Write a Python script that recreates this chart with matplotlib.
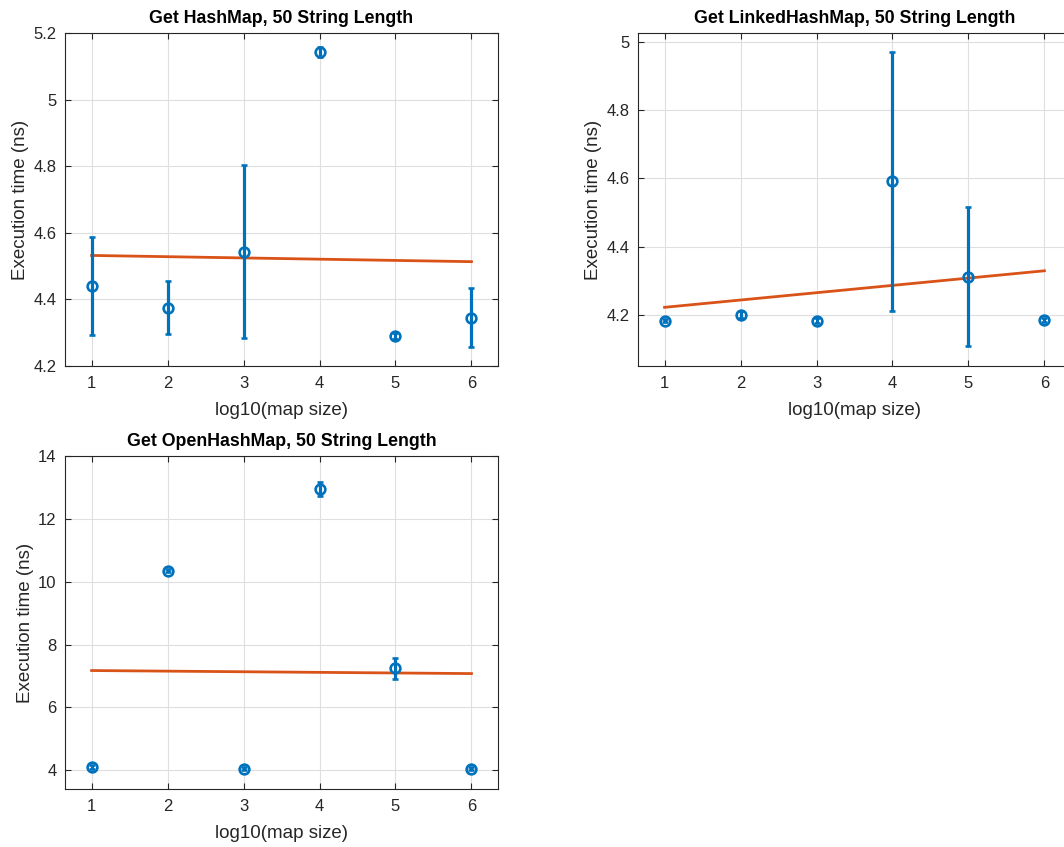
import numpy as np
import matplotlib
matplotlib.use("Agg")
import matplotlib.pyplot as plt

plt.rcParams['font.family'] = ['Liberation Sans', 'DejaVu Sans']

# data
sizes = [1, 2, 3, 4, 5, 6]

hash_mean = [4.44, 4.375, 4.543, 5.142, 4.29, 4.345]
hash_err = [0.148, 0.08, 0.26, 0.015, 0.01, 0.088]

linked_mean = [4.183, 4.200, 4.182, 4.591, 4.312, 4.184]
linked_err = [0.005, 0.01, 0.007, 0.38, 0.203, 0.005]

open_mean = [4.10, 10.35, 4.05, 12.95, 7.24, 4.05]
open_err = [0.05, 0.05, 0.04, 0.23, 0.33, 0.04]

titles = ['Get HashMap, 50 String Length',
          'Get LinkedHashMap, 50 String Length',
          'Get OpenHashMap, 50 String Length']

BLUE = '#0072BD'
ORANGE = '#D95319'
DARK = '#262626'


def panel(ax, means, errs, title, ylim, yticks, yticklabels):
    x = np.array(sizes)
    ax.errorbar(x, means, yerr=errs, fmt='o', color=BLUE, mfc='none',
                ms=7, mew=1.9, elinewidth=2.3, capsize=2.5, capthick=2, zorder=3)
    # least squares line through the means
    k, b = np.polyfit(x, means, 1)
    ax.plot(x, k * x + b, color=ORANGE, lw=2, zorder=2)
    ax.set_xlim(0.65, 6.35)
    ax.set_ylim(*ylim)
    ax.set_xticks(sizes)
    ax.set_yticks(yticks)
    ax.set_yticklabels(yticklabels)
    ax.grid(True, color='#dfdfdf', lw=0.8)
    ax.set_axisbelow(True)
    ax.tick_params(direction='in', top=True, right=True, labelsize=12,
                   colors=DARK, length=4, width=0.8)
    ax.tick_params(axis='y', pad=6)
    ax.tick_params(axis='x', pad=7)
    for s in ax.spines.values():
        s.set_color(DARK)
        s.set_linewidth(0.8)
    ax.set_title(title, fontsize=12.8, fontweight='bold', pad=7)
    ax.set_xlabel('log10(map size)', fontsize=13.5, color=DARK, labelpad=8)
    ax.set_ylabel('Execution time (ns)', fontsize=13.5, color=DARK, labelpad=3)


fig = plt.figure(figsize=(10.64, 8.47), dpi=100)
ax1 = fig.add_axes([0.0611, 0.568, 0.407, 0.393])
ax2 = fig.add_axes([0.5996, 0.568, 0.407, 0.393])
ax3 = fig.add_axes([0.0611, 0.0685, 0.407, 0.393])

panel(ax1, hash_mean, hash_err, titles[0], (4.2, 5.2),
      [4.2, 4.4, 4.6, 4.8, 5.0, 5.2], ['4.2', '4.4', '4.6', '4.8', '5', '5.2'])
panel(ax2, linked_mean, linked_err, titles[1], (4.05, 5.026),
      [4.2, 4.4, 4.6, 4.8, 5.0], ['4.2', '4.4', '4.6', '4.8', '5'])
panel(ax3, open_mean, open_err, titles[2], (3.4, 14),
      [4, 6, 8, 10, 12, 14], ['4', '6', '8', '10', '12', '14'])

fig.savefig('out.png', dpi=100)
